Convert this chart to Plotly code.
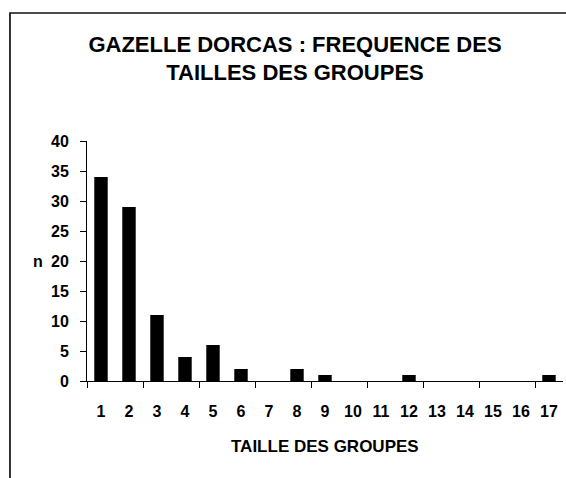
import plotly.graph_objects as go

# group sizes and number of observations
tailles = list(range(1, 18))
effectifs = [34, 29, 11, 4, 6, 2, 0, 2, 1, 0, 0, 1, 0, 0, 0, 0, 1]
y_ticks = [0, 5, 10, 15, 20, 25, 30, 35, 40]

FONT = "Liberation Sans"

fig = go.Figure(go.Bar(x=tailles, y=effectifs, width=0.48,
                       marker=dict(color="black", line=dict(width=0))))

fig.update_layout(
    width=566, height=478,
    margin=dict(l=87, r=3, t=141, b=97),
    paper_bgcolor="white", plot_bgcolor="white",
    showlegend=False,
    font=dict(family=FONT, color="black"),
    title=dict(text="GAZELLE DORCAS : FREQUENCE DES<br>TAILLES DES GROUPES",
               x=295 / 566, xref="container", xanchor="center",
               y=1 - 51.5 / 478, yref="container", yanchor="middle",
               font=dict(family=FONT, size=22, weight="bold", color="black")),
)

fig.update_xaxes(
    range=[0.5, 17.5], tickmode="array", tickvals=tailles,
    ticktext=[str(t) for t in tailles],
    ticks="", showgrid=False, zeroline=False,
    showline=True, linecolor="black", linewidth=1,
    tickfont=dict(family=FONT, size=16, weight="bold"),
    ticklabelstandoff=16,
    minor=dict(tickmode="array", tickvals=[0.5 + 2 * k for k in range(9)],
               ticks="outside", ticklen=6, tickcolor="black", showgrid=False),
)
fig.update_yaxes(
    range=[0, 40], tickmode="array", tickvals=y_ticks,
    ticks="outside", ticklen=6, tickcolor="black",
    showgrid=False, zeroline=False,
    showline=True, linecolor="black", linewidth=1,
    tickfont=dict(family=FONT, size=16, weight="bold"),
    ticklabelstandoff=8,
)

fig.add_annotation(text="n", xref="paper", yref="paper", x=-0.103, y=0.5,
                   showarrow=False, xanchor="center", yanchor="middle",
                   font=dict(family=FONT, size=16, weight="bold"))
fig.add_annotation(text="TAILLE DES GROUPES", xref="paper", yref="paper",
                   x=0.5, y=-0.271, showarrow=False,
                   xanchor="center", yanchor="middle",
                   font=dict(family=FONT, size=17, weight="bold"))

# chart frame (top and left edges visible)
fig.add_shape(type="path", xref="paper", yref="paper",
              path="M -0.1618,-0.45 L -0.1618,1.5333 L 1.01,1.5333",
              line=dict(color="#111111", width=1.7))

# drop the default body margin so the figure fills the window exactly
fig.write_html("out.html", config={"displayModeBar": False},
               post_script="document.body.style.margin='0';")
